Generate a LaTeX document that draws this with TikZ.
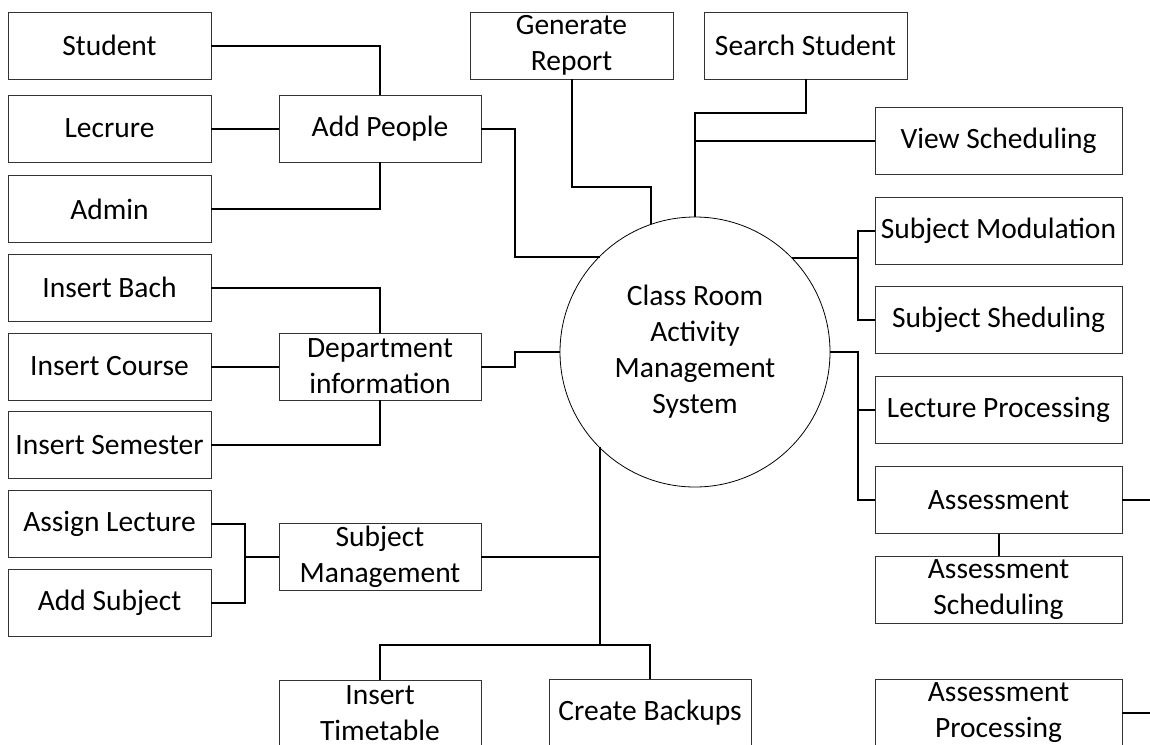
\documentclass[tikz,border=0pt]{standalone}
\usepackage{fontspec}
\setmainfont{Carlito}
\newcommand{\boxfont}{\fontsize{29.5}{36}\selectfont}
\begin{document}
\begin{tikzpicture}[x=1pt,y=-1pt,
  box/.style={draw=black!80, line width=1pt, minimum height=67pt, inner sep=1pt, outer sep=0pt, align=center, font=\boxfont, text=black},
  lcol/.style={box, minimum width=203pt},
  mcol/.style={box, minimum width=202pt},
  rcol/.style={box, minimum width=247pt},
  conn/.style={line width=2pt, black}]
\useasboundingbox (0,0) rectangle (1150,744);
\clip (0,0) rectangle (1150,744);
\fill[white] (0,0) rectangle (1150,744);

% left column
\node[lcol] (stu) at (109.5,45.5) {Student};
\node[lcol] (lec) at (109.5,128.5) {Lecrure};
\node[lcol] (adm) at (109.5,209) {Admin};
\node[lcol] (ib) at (109.5,287.5) {Insert Bach};
\node[lcol] (ic) at (109.5,366.5) {Insert Course};
\node[lcol] (isem) at (109.5,445) {Insert Semester};
\node[lcol] (al) at (109.5,523.5) {Assign Lecture};
\node[lcol] (as) at (109.5,602.5) {Add Subject};

% middle column
\node[mcol] (addp) at (380,128.5) {Add People};
\node[mcol] (dept) at (380,366.5) {Department\\information};
\node[mcol] (smg) at (380,556.5) {Subject\\Management};
\node[mcol] (tt) at (380,713.5) {Insert\\Timetable};

% top / bottom
\node[mcol, minimum width=203pt] (gen) at (571.5,45.5) {Generate\\Report};
\node[mcol, minimum width=203pt] (ss) at (805.5,45.5) {Search Student};
\node[mcol] (cb) at (650,712.5) {Create Backups};

% right column
\node[rcol] (vs) at (998.5,140.5) {View Scheduling};
\node[rcol] (smod) at (998.5,230.5) {Subject Modulation};
\node[rcol] (ssch) at (998.5,320) {Subject Sheduling};
\node[rcol] (lp) at (998.5,410) {Lecture Processing};
\node[rcol] (asm) at (998.5,500) {Assessment};
\node[rcol] (asch) at (998.5,589.5) {Assessment\\Scheduling};
\node[rcol] (aproc) at (998.5,712.5) {Assessment\\Processing};

% centre
\node[circle, draw=black, line width=0.8pt, minimum size=270pt, inner sep=0pt, outer sep=0pt, align=center, font=\boxfont] (c) at (695,352) {Class Room\\Activity\\Management\\System};

\coordinate (edgeR) at (1152,0);

% Add People group
\draw[conn] (stu.east) -| (addp.north);
\draw[conn] (lec.east) -- (addp.west);
\draw[conn] (adm.east) -| (addp.south);
\draw[conn] (addp.east) -- ++(34,0) |- (c.135.28);

% Department group
\draw[conn] (ib.east) -| (dept.north);
\draw[conn] (ic.east) -- (dept.west);
\draw[conn] (isem.east) -| (dept.south);
\draw[conn] (dept.east) -- ++(34,0) |- (c.west);

% Subject management group
\draw[conn] (al.east) -- ++(34,0) |- (as.east);
\draw[conn] (smg.west) -- ++(-34,0);
\draw[conn] (c.225.28) -- ++(0,198) coordinate (j);
\draw[conn] (smg.east) -- (smg.east -| j);
\draw[conn] (tt.north) |- (j) -| (cb.north);

% top
\draw[conn] (gen.south) -- ++(0,108) -| (c.109.47);
\draw[conn] (ss.south) -- ++(0,34) -| (c.north);
\draw[conn] (vs.west) -- (c.north |- vs.west);

% right
\draw[conn] (c.44.72) -- ++(67,0);
\draw[conn] (smod.west) -- ++(-17,0) |- (ssch.west);
\draw[conn] (c.east) -- ++(28,0) |- (asm.west);
\draw[conn] (lp.west) -- ++(-17,0);
\draw[conn] (asm.east) -- (asm.east -| edgeR);
\draw[conn] (asm.south) -- (asch.north);
\draw[conn] (aproc.east) -- (aproc.east -| edgeR);
\end{tikzpicture}
\end{document}
